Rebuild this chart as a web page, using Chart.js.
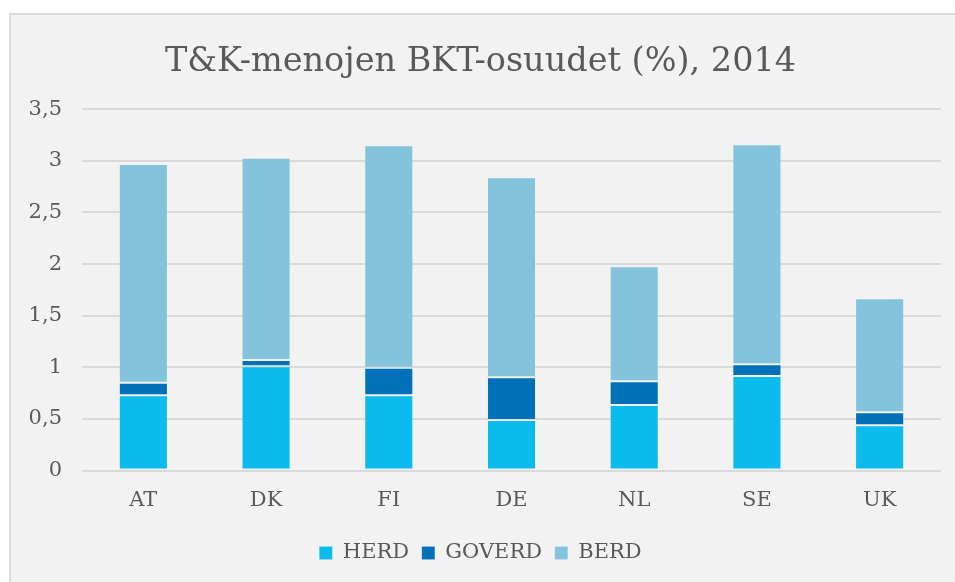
<!DOCTYPE html>
<html>
<head>
<meta charset="utf-8">
<script src="https://cdn.jsdelivr.net/npm/chart.js@4.4.1/dist/chart.umd.min.js"></script>
<style>
  body { margin: 0; background: #ffffff; }
  #box { position: absolute; left: 9px; top: 13px; width: 960px; height: 580px;
         background: #f2f2f2; border: 2px solid #d9d9d9; }
  #myChart { position: absolute; left: 0; top: 0; }
</style>
</head>
<body>
<div id="box"></div>
<canvas id="myChart" width="955" height="582"></canvas>
<script>
const countries = ["AT", "DK", "FI", "DE", "NL", "SE", "UK"];
const herd   = [0.73, 1.01, 0.73, 0.49, 0.635, 0.915, 0.44];
const goverd = [0.12, 0.06, 0.265, 0.415, 0.23, 0.115, 0.125];
const berd   = [2.12, 1.96, 2.155, 1.935, 1.115, 2.13, 1.105];
const yTicks = [0, 0.5, 1, 1.5, 2, 2.5, 3, 3.5];

const serif = "'DejaVu Serif', 'Liberation Serif', serif";
const grey = "#595959";

function fmt(v) {
  // finnish decimal comma
  return String(v).replace(".", ",");
}

const ctx = document.getElementById("myChart");
new Chart(ctx, {
  type: "bar",
  data: {
    labels: countries,
    datasets: [
      { label: "HERD", data: herd, backgroundColor: "#0bbbee" },
      { label: "GOVERD", data: goverd, backgroundColor: "#0070b9" },
      { label: "BERD", data: berd, backgroundColor: "#83c4dc" },
    ].map(d => Object.assign(d, {
      borderColor: "rgba(255,255,255,0.12)",
      borderWidth: 1,
      borderSkipped: false,
      categoryPercentage: 1,
      barPercentage: 0.4,
    })),
  },
  options: {
    responsive: false,
    animation: false,
    layout: { padding: { left: 20, right: 14, top: 10, bottom: 8.5 } },
    plugins: {
      title: {
        display: true,
        text: "T&K-menojen BKT-osuudet (%), 2014",
        color: grey,
        font: { family: serif, size: 33.5, weight: "normal" },
        padding: { top: 32, bottom: 27 },
      },
      legend: {
        position: "bottom",
        labels: {
          color: grey,
          font: { family: serif, size: 21 },
          boxWidth: 13,
          boxHeight: 13,
          padding: 12.7,
        },
      },
      tooltip: { enabled: false },
    },
    scales: {
      x: {
        stacked: true,
        grid: { display: false, drawTicks: false },
        border: { display: false },
        ticks: { color: grey, font: { family: serif, size: 21 }, padding: 17 },
      },
      y: {
        stacked: true,
        min: 0,
        max: 3.5,
        afterBuildTicks: axis => { axis.ticks = yTicks.map(v => ({ value: v })); },
        afterFit: axis => { axis.width = 62; },
        grid: { color: "#d9d9d9", lineWidth: 2, drawTicks: false },
        border: { display: false },
        ticks: {
          color: grey,
          font: { family: serif, size: 21 },
          padding: 20,
          callback: v => fmt(v),
        },
      },
    },
  },
});
</script>
</body>
</html>
